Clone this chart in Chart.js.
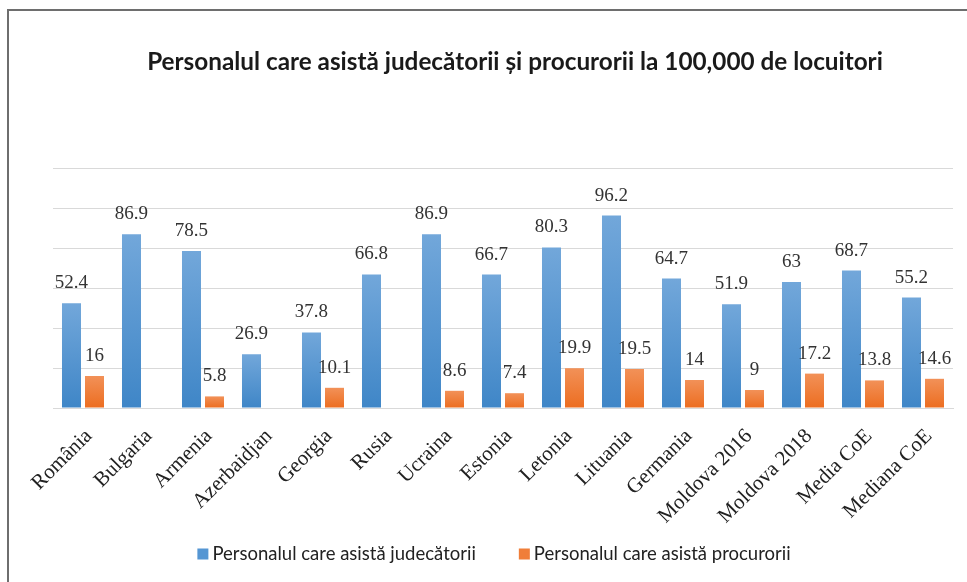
<!DOCTYPE html>
<html>
<head>
<meta charset="utf-8">
<script src="https://cdn.jsdelivr.net/npm/chart.js@4.4.1/dist/chart.umd.min.js"></script>
<style>
html,body{margin:0;padding:0;background:#fff;}
#wrap{width:967px;height:582px;position:relative;}
</style>
</head>
<body>
<div id="wrap"><canvas id="c" width="967" height="582"></canvas></div>
<script>
const categories = ["România","Bulgaria","Armenia","Azerbaidjan","Georgia","Rusia","Ucraina","Estonia","Letonia","Lituania","Germania","Moldova 2016","Moldova 2018","Media CoE","Mediana CoE"];
const judecatorii = [52.4,86.9,78.5,26.9,37.8,66.8,86.9,66.7,80.3,96.2,64.7,51.9,63,68.7,55.2];
const procurorii = [16,null,5.8,null,10.1,null,8.6,7.4,19.9,19.5,14,9,17.2,13.8,14.6];
const seriesNames = ["Personalul care asistă judecătorii","Personalul care asistă procurorii"];
const titleText = "Personalul care asistă judecătorii și procurorii la 100,000 de locuitori";
const legendColors = ["#5596d3","#f07e39"];

function barGradient(top, bottom){
  return function(ctx){
    const chart = ctx.chart;
    const y = chart.scales && chart.scales.y;
    if(!y || ctx.parsed == null || ctx.parsed.y == null) return bottom;
    const yTop = y.getPixelForValue(ctx.parsed.y);
    const yBot = y.getPixelForValue(0);
    if(!isFinite(yTop) || !isFinite(yBot) || yTop===yBot) return bottom;
    const g = chart.ctx.createLinearGradient(0, yTop, 0, yBot);
    g.addColorStop(0, top);
    g.addColorStop(1, bottom);
    return g;
  };
}

const framePlugin = {
  id:'frame',
  beforeDraw(chart){
    const c = chart.ctx;
    c.save();
    c.strokeStyle = '#6e6e6e';
    c.lineWidth = 2;
    c.beginPath();
    c.moveTo(8, 582); c.lineTo(8, 10); c.lineTo(967, 10);
    c.stroke();
    c.font = 'bold 24.3px Lato';
    c.fillStyle = '#1a1a1a';
    c.textAlign = 'center';
    c.textBaseline = 'middle';
    c.fillText(titleText, 515, 62);
    c.restore();
  }
};

const labelPlugin = {
  id:'vlabels',
  afterDatasetsDraw(chart){
    const c = chart.ctx;
    c.save();
    c.font = '19px "Liberation Serif"';
    c.fillStyle = '#333';
    c.textAlign = 'center';
    c.textBaseline = 'middle';
    chart.data.datasets.forEach((ds, di) => {
      const meta = chart.getDatasetMeta(di);
      meta.data.forEach((el, i) => {
        const v = ds.data[i];
        if(v == null) return;
        c.fillText(String(v), el.x, el.y - 20);
      });
    });
    c.restore();
  }
};

const legendPlugin = {
  id:'customLegend',
  afterDraw(chart){
    const c = chart.ctx;
    c.save();
    c.font = '18.5px Lato';
    c.textBaseline = 'middle';
    c.textAlign = 'left';
    const box = 11, gapText = 4, gapItem = 43;
    const widths = seriesNames.map(t => c.measureText(t).width);
    const total = widths.reduce((a,w)=>a+box+gapText+w,0) + gapItem*(seriesNames.length-1);
    let x = 494 - total/2;
    const yc = 554;
    seriesNames.forEach((t,i)=>{
      c.fillStyle = legendColors[i];
      c.fillRect(x, yc - box/2, box, box);
      x += box + gapText;
      c.fillStyle = '#222';
      c.fillText(t, x, yc);
      x += widths[i] + gapItem;
    });
    c.restore();
  }
};

new Chart(document.getElementById('c'), {
  type:'bar',
  data:{
    labels: categories,
    datasets:[
      {label: seriesNames[0], data: judecatorii, backgroundColor: barGradient('#72a7da','#3f86c7'), barPercentage:0.826, categoryPercentage:0.767},
      {label: seriesNames[1], data: procurorii, backgroundColor: barGradient('#f29158','#ec6d20'), barPercentage:0.826, categoryPercentage:0.767}
    ]
  },
  options:{
    responsive:false,
    animation:false,
    layout:{padding:{top:168,left:53,right:14,bottom:44}},
    scales:{
      y:{min:0,max:120,ticks:{display:false,stepSize:20},grid:{color:'#d9d9d9',drawTicks:false},border:{display:false},
         afterFit(a){a.width=0;}},
      x:{grid:{display:false},border:{color:'#d9d9d9'},
         ticks:{maxRotation:45,minRotation:45,color:'#222',font:{family:'"Liberation Serif"',size:21},padding:8,labelOffset:6},
         afterFit(a){a.height=130;}}
    },
    plugins:{
      title:{display:false},
      legend:{display:false},
      tooltip:{enabled:false}
    }
  },
  plugins:[framePlugin,labelPlugin,legendPlugin]
});
</script>
</body>
</html>
